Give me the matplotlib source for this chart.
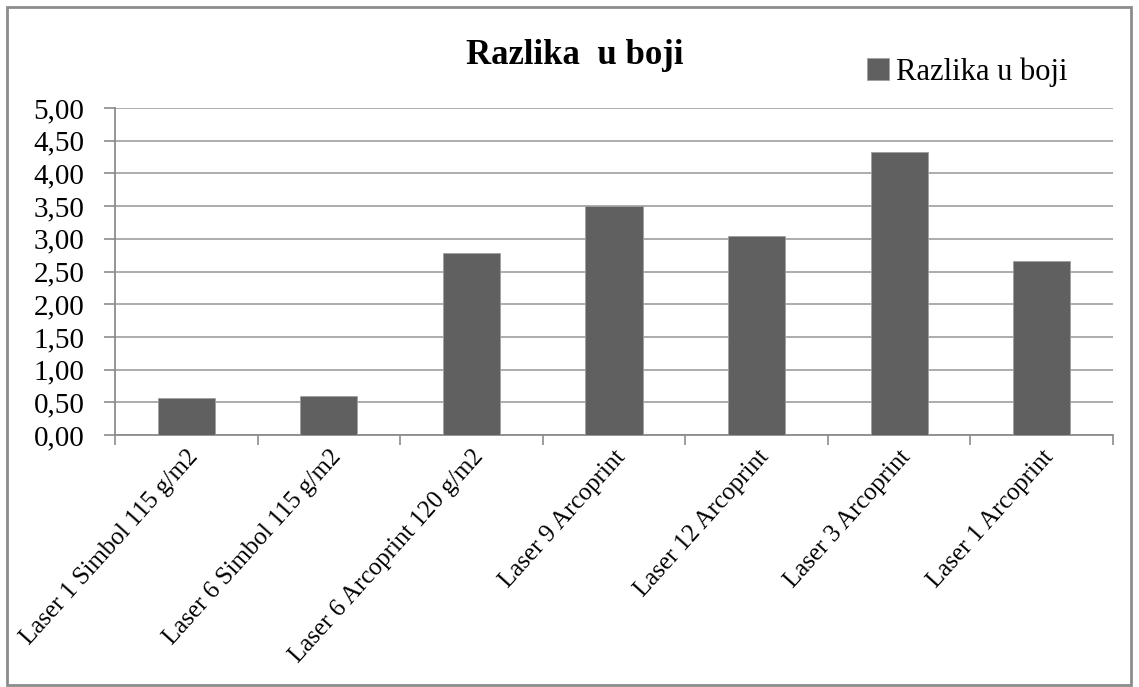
import matplotlib
matplotlib.use('Agg')
import matplotlib.pyplot as plt
from matplotlib.patches import Rectangle
import numpy as np

plt.rcParams['font.family'] = ['Liberation Serif', 'DejaVu Serif']

# podaci
categories = ['Laser 1 Simbol 115 g/m2', 'Laser 6 Simbol 115 g/m2',
              'Laser 6 Arcoprint 120 g/m2', 'Laser 9 Arcoprint',
              'Laser 12 Arcoprint', 'Laser 3 Arcoprint', 'Laser 1 Arcoprint']
values = [0.57, 0.59, 2.78, 3.50, 3.05, 4.33, 2.66]
y_ticks = [0.0, 0.5, 1.0, 1.5, 2.0, 2.5, 3.0, 3.5, 4.0, 4.5, 5.0]
series_name = 'Razlika u boji'
title = 'Razlika  u boji'

BAR_COLOR = '#606060'
GRID_COLOR = '#a6a6a6'
AXIS_COLOR = '#8c8c8c'

W, H = 1139, 687
fig = plt.figure(figsize=(W / 100, H / 100), dpi=100)
ax = fig.add_axes([115 / W, 1 - 435 / H, (1113 - 115) / W, (435 - 108) / H])

x = np.arange(len(categories))
ax.bar(x, values, width=0.4, color=BAR_COLOR, edgecolor='#a0a0a0',
       linewidth=0.6, zorder=3, label=series_name)

ax.set_xlim(-0.5, len(categories) - 0.5)
ax.set_ylim(0, 5)
ax.set_yticks(y_ticks)
ax.set_yticklabels([f'{v:.2f}'.replace('.', ',') for v in y_ticks], fontsize=21)
ax.yaxis.grid(True, color=GRID_COLOR, linewidth=1.3, zorder=0)
ax.set_axisbelow(True)

# x oznake
ax.set_xticks(x)
ax.set_xticklabels(categories, rotation=48, ha='right', va='top',
                   rotation_mode='anchor', fontsize=18)
ax.tick_params(axis='x', which='major', length=0, pad=8)
ax.set_xticks(np.arange(-0.5, len(categories)), minor=True)
ax.tick_params(axis='x', which='minor', length=7, color=AXIS_COLOR, width=1.2)
ax.tick_params(axis='y', length=8, color=AXIS_COLOR, width=1.2, pad=14)

for side in ['top', 'right']:
    ax.spines[side].set_visible(False)
for side in ['left', 'bottom']:
    ax.spines[side].set_color(AXIS_COLOR)
    ax.spines[side].set_linewidth(1.3)

fig.text(575 / W, 1 - 55 / H, title, ha='center', va='center',
         fontsize=25, fontweight='bold')

fig.legend(loc='center left', bbox_to_anchor=(855 / W, 1 - 72 / H),
           frameon=False, fontsize=22, handlelength=0.7, handleheight=0.7,
           handletextpad=0.25, borderaxespad=0)

fig.add_artist(Rectangle((7 / W, 2 / H), (1131 - 7) / W, (680 - 2) / H,
                         transform=fig.transFigure, fill=False,
                         edgecolor=AXIS_COLOR, linewidth=2))

plt.savefig('out.png', dpi=100, facecolor='white')
plt.close()
